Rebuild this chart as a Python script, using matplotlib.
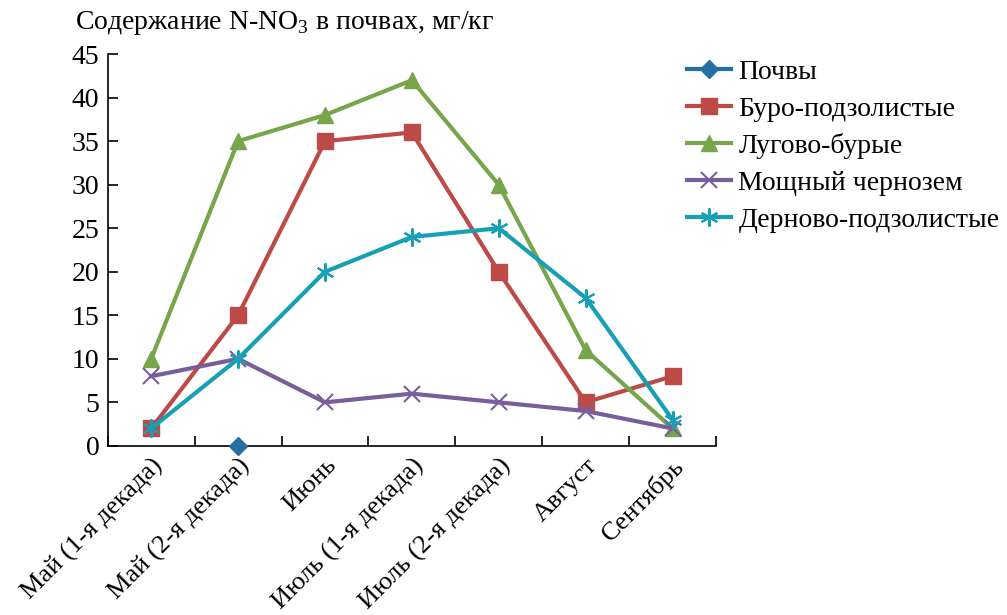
import matplotlib
matplotlib.use("Agg")
import matplotlib.pyplot as plt

plt.rcParams['font.family'] = ['Liberation Serif', 'DejaVu Serif']
plt.rcParams['mathtext.fontset'] = 'custom'
plt.rcParams['mathtext.rm'] = 'Liberation Serif'

categories = ["Май (1-я декада)", "Май (2-я декада)", "Июнь", "Июль (1-я декада)",
              "Июль (2-я декада)", "Август", "Сентябрь"]
pochvy_x = [1]
pochvy = [0]
buro = [2, 15, 35, 36, 20, 5, 8]
lugovo = [10, 35, 38, 42, 30, 11, 2]
chernozem = [8, 10, 5, 6, 5, 4, 2]
dernovo = [2, 10, 20, 24, 25, 17, 3]
yticks = list(range(0, 50, 5))

FS = 20
fig = plt.figure(figsize=(10.07, 6.15), dpi=100)
ax = fig.add_axes([0.107, 0.275, 0.604, 0.637])
x = list(range(len(categories)))
lw = 3
ax.plot(pochvy_x, pochvy, color='#2470A6', marker='D', ms=9, lw=lw, label='Почвы', clip_on=False, zorder=5)
ax.plot(x, buro, color='#BC4A47', marker='s', ms=11, lw=lw, label='Буро-подзолистые', clip_on=False)
ax.plot(x, lugovo, color='#76A54A', marker='^', ms=12, lw=lw, label='Лугово-бурые', clip_on=False)
ax.plot(x, chernozem, color='#7A5E9B', marker='x', ms=11, mew=1.5, lw=lw, label='Мощный чернозем', clip_on=False)
ax.plot(x, dernovo, color='#17A0B5', marker=(6, 2, 0), ms=13, mew=1.5, lw=lw, label='Дерново-подзолистые', clip_on=False)

ax.set_xlim(-0.5, len(categories) - 0.5)
ax.set_ylim(0, 45)
ax.set_yticks(yticks)
ax.tick_params(axis='y', direction='in', length=7, width=1.2, labelsize=FS, pad=6)
ax.set_xticks(x)
ax.set_xticklabels(categories, rotation=45, ha='right', rotation_mode='anchor', fontsize=19)
ax.tick_params(axis='x', which='major', length=0, pad=6)
ax.set_xticks([i + 0.5 for i in range(-1, len(categories))], minor=True)
ax.tick_params(axis='x', which='minor', direction='in', length=7, width=1.2)
for s in ['top', 'right']:
    ax.spines[s].set_visible(False)
for s in ['left', 'bottom']:
    ax.spines[s].set_linewidth(1.2)

fig.text(0.074, 0.963, r"Содержание N-NO$_\mathregular{3}$ в почвах, мг/кг", fontsize=FS, va='center', ha='left')

ax.legend(loc='upper left', bbox_to_anchor=(0.934, 1.015), frameon=False, fontsize=FS,
          handlelength=1.6, handletextpad=0.25, labelspacing=0.41, borderaxespad=0)

fig.savefig("out.png", dpi=100)
